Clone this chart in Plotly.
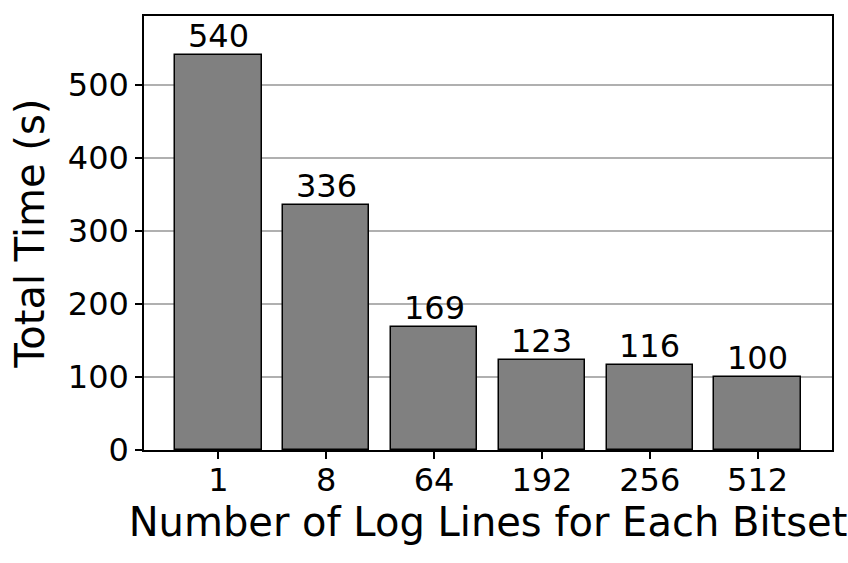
import plotly.graph_objects as go

categories = ["1", "8", "64", "192", "256", "512"]
total_time = [540, 336, 169, 123, 116, 100]
y_ticks = [0, 100, 200, 300, 400, 500]

FONT = "DejaVu Sans"

fig = go.Figure()
fig.add_trace(go.Bar(
    x=list(range(len(categories))),
    y=total_time,
    width=0.8,
    marker=dict(color="#808080", line=dict(color="black", width=1.5)),
    showlegend=False,
))

for i, v in enumerate(total_time):
    fig.add_annotation(
        x=i, y=v, text=str(v), showarrow=False,
        xanchor="center", yanchor="bottom", yshift=-2,
        font=dict(family=FONT, size=32, color="black"),
    )

fig.update_layout(
    width=848, height=563,
    margin=dict(l=143.5, r=16, t=15.5, b=112.5),
    paper_bgcolor="white", plot_bgcolor="white",
    font=dict(family=FONT, color="black"),
    bargap=0,
)
fig.update_xaxes(
    automargin=False,
    range=[-0.69, 5.69],
    tickmode="array", tickvals=list(range(len(categories))), ticktext=categories,
    tickfont=dict(size=32), ticklabelstandoff=-6,
    ticks="outside", ticklen=7, tickwidth=1.5, tickcolor="black",
    showline=True, linecolor="black", linewidth=1.5, mirror=True,
    showgrid=False, zeroline=False,
    title=dict(text="Number of Log Lines for Each Bitset", font=dict(size=40), standoff=6),
)
fig.update_yaxes(
    automargin=False,
    range=[0, 594],
    tickmode="array", tickvals=y_ticks,
    tickfont=dict(size=32),
    ticks="outside", ticklen=7, tickwidth=1.5, tickcolor="black",
    showline=True, linecolor="black", linewidth=1.5, mirror=True,
    showgrid=True, gridcolor="#b0b0b0", gridwidth=1.5,
    zeroline=False,
    title=dict(text="Total Time (s)", font=dict(size=40), standoff=11),
)

fig.write_html("out.html", config={"displayModeBar": False},
               post_script="document.body.style.margin='0';")
